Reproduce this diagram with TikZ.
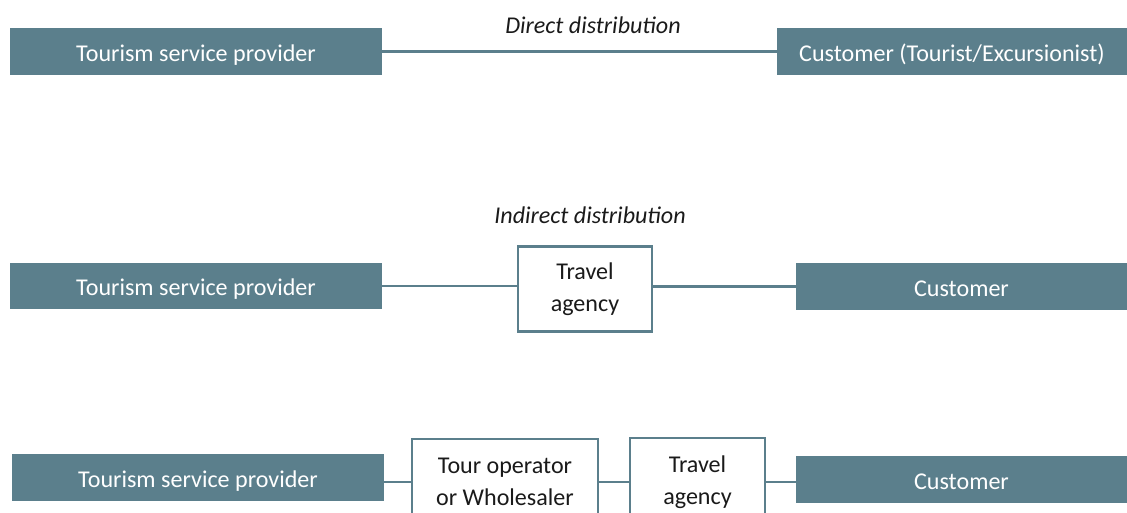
\documentclass[tikz,border=0pt]{standalone}
\usepackage{fontspec}
\setmainfont{Carlito}
\usepackage{tikz}
\usetikzlibrary{positioning}
\definecolor{cTeal}{HTML}{5B7F8C}
\definecolor{cText}{HTML}{1A1A1A}
\tikzset{
    party/.style={fill=cTeal, text=white, minimum height=0.94cm, inner sep=0pt, text height=1.35em, text depth=0.22em, font=\fontsize{13.7}{16}\selectfont},
    middle/.style={draw=cTeal, line width=1.2pt, fill=white, text=cText, align=center, inner sep=0pt, font=\fontsize{13.7}{18}\selectfont},
    link/.style={draw=cTeal, line width=1.2pt},
    kind/.style={text=cText, font=\fontsize{13.7}{16}\selectfont\itshape}
}

\begin{document}
\begin{tikzpicture}[x=0.02cm, y=-0.02cm]
        \clip (0,0) rectangle (1127,513);
        \useasboundingbox (0,0) rectangle (1127,513);
        % direct distribution
        \node[party, minimum width=7.44cm] (prov1) at (196,51.5) {Tourism service provider};
        \node[party, minimum width=7.0cm] (cust1) at (952,51.5) {Customer (Tourist/Excursionist)};
        \draw[link] (prov1.east) -- (cust1.west);
        \node[kind] (direct) at (593,25) {Direct distribution};
        % indirect distribution, one intermediary
        \node[party, minimum width=7.44cm] (prov2) at (196,286) {Tourism service provider};
        \node[middle, minimum width=2.68cm, minimum height=1.7cm] (agency2) at (585,289) {Travel\\agency};
        \node[party, minimum width=6.62cm] (cust2) at (961.5,286.5) {Customer};
        \draw[link] (prov2.east) -- (prov2.east -| agency2.west);
        \draw[link] (cust2.west -| agency2.east) -- (cust2.west);
        \node[kind] (indirect) at (590,215) {Indirect distribution};
        % indirect distribution, two intermediaries
        \node[party, minimum width=7.44cm] (prov3) at (198,477.5) {Tourism service provider};
        \node[middle, minimum width=3.72cm, minimum height=1.72cm] (oper3) at (505,482) {Tour operator\\or Wholesaler};
        \node[middle, minimum width=2.7cm, minimum height=1.76cm] (agency3) at (697.5,482) {Travel\\agency};
        \node[party, minimum width=6.62cm] (cust3) at (961.5,479.5) {Customer};
        \draw[link] (oper3.west -| prov3.east) -- (oper3.west);
        \draw[link] (oper3.east) -- (agency3.west);
        \draw[link] (agency3.east) -- (agency3.east -| cust3.west);
    \end{tikzpicture}
\end{document}
